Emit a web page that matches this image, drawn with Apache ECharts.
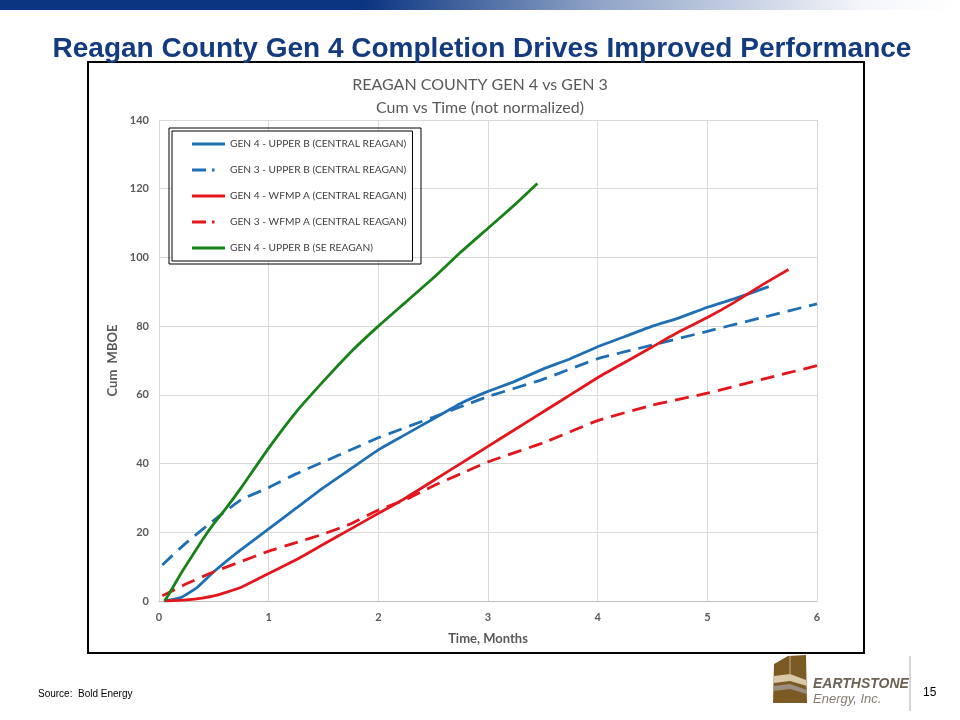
<!DOCTYPE html>
<html>
<head>
<meta charset="utf-8">
<script src="https://cdn.jsdelivr.net/npm/echarts@6/dist/echarts.min.js"></script>
<style>html,body{margin:0;padding:0;background:#fff;}#c{width:960px;height:720px;}</style>
</head>
<body>
<div id="c"></div>
<script>
// ---- data (time in months, cum in MBOE) ----
const seriesNames = [
  'GEN 4 - UPPER B (CENTRAL REAGAN)',
  'GEN 3 - UPPER B (CENTRAL REAGAN)',
  'GEN 4 - WFMP A (CENTRAL REAGAN)',
  'GEN 3 - WFMP A (CENTRAL REAGAN)',
  'GEN 4 - UPPER B (SE REAGAN)'
];
const gen4UpperBCentral = [[0.05,0],[0.2,1],[0.35,4],[0.5,8.5],[0.75,15],[1,21],[1.25,27],[1.5,33],[1.75,38.5],[2,44],[2.25,48.5],[2.5,53],[2.75,57.5],[3,61],[3.25,64],[3.5,67.5],[3.75,70.5],[4,74],[4.25,77],[4.5,80],[4.75,82.5],[5,85.5],[5.25,88],[5.56,91.5]];
const gen3UpperBCentral = [[0.03,10.5],[0.25,17],[0.5,23.5],[0.75,29.5],[1,33],[1.25,37],[1.5,40.5],[1.75,44],[2,47.5],[2.5,53.5],[3,59.5],[3.5,64.5],[4,70.5],[4.5,74.5],[5,78.5],[5.5,82.5],[6,86.5]];
const gen4WfmpACentral = [[0.05,0],[0.25,0.3],[0.5,1.5],[0.75,4],[1,8],[1.25,12],[1.5,16.5],[1.75,21],[2,25.5],[2.25,30],[2.5,35],[2.75,40],[3,45],[3.25,50],[3.5,55],[3.75,60],[4,65],[4.25,69.5],[4.5,74],[4.75,78.5],[5,82.5],[5.25,87],[5.5,92],[5.74,96.5]];
const gen3WfmpACentral = [[0.03,1.5],[0.25,5],[0.5,8.5],[0.75,11.5],[1,14.5],[1.25,17],[1.5,19.5],[1.75,22.5],[2,26.5],[2.25,29.5],[2.5,33.5],[2.75,37],[3,40.5],[3.5,46],[4,52.5],[4.5,57],[5,60.5],[5.5,64.5],[6,68.5]];
const gen4UpperBSE = [[0.05,0],[0.1,2.5],[0.2,8],[0.3,13],[0.4,18],[0.5,22.5],[0.6,26.5],[0.75,33],[1,44.5],[1.25,55],[1.5,64],[1.75,72.5],[2,80],[2.25,87],[2.5,94],[2.75,101.5],[3,108.5],[3.25,115.5],[3.45,121.5]];

const pageTitle = 'Reagan County Gen 4 Completion Drives Improved Performance';
const chartTitle = 'REAGAN COUNTY GEN 4 vs GEN 3\nCum vs Time (not normalized)';
const xAxisName = 'Time, Months';
const yAxisName = 'Cum  MBOE';
const sourceText = 'Source:  Bold Energy';
const pageNumber = '15';

const BLUE = '#1f6fb4', RED = '#e4161c', GREEN = '#178217';
const FONT = 'Lato, "Open Sans", sans-serif';
const ICON_SOLID = 'path://M0,0M33,14M0,5.5h33v3h-33z';
const ICON_DASH = 'path://M0,0M33,14M0,5.5h14v3h-14zM20,5.5h2.5v3h-2.5z';

const chart = echarts.init(document.getElementById('c'), null, {renderer: 'canvas'});

function mk(name, data, color, dashed) {
  return {
    name: name, type: 'line', data: data, showSymbol: false, symbol: 'none',
    smooth: 0.15,
    lineStyle: {color: color, width: 2.8, type: dashed ? [14, 8] : 'solid'},
    itemStyle: {color: color},
    emphasis: {disabled: true}, animation: false
  };
}

chart.setOption({
  animation: false,
  backgroundColor: '#fff',
  title: [
    {text: pageTitle, left: 477, top: 30, textAlign: 'center',
     textStyle: {fontFamily: '"Liberation Sans Narrow", Arial, sans-serif', fontWeight: 'bold', fontSize: 28, color: '#143a80'}},
    {text: chartTitle, left: 475, top: 68, textAlign: 'center',
     textStyle: {fontFamily: FONT, fontWeight: 'normal', fontSize: 16, color: '#595959', lineHeight: 23}},
    {text: sourceText, left: 33, top: 684,
     textStyle: {fontFamily: 'Arial, "Liberation Sans", sans-serif', fontWeight: 'normal', fontSize: 10, color: '#000'}},
    {text: pageNumber, left: 918, top: 682,
     textStyle: {fontFamily: 'Arial, "Liberation Sans", sans-serif', fontWeight: 'normal', fontSize: 12, color: '#000'}}
  ],
  grid: {left: 159, right: 143, top: 120, bottom: 119, containLabel: false},
  xAxis: {
    type: 'value', min: 0, max: 6, interval: 1,
    name: xAxisName, nameLocation: 'middle', nameGap: 31,
    nameTextStyle: {fontFamily: FONT, fontWeight: 'bold', fontSize: 13, color: '#595959'},
    axisLine: {show: true, lineStyle: {color: '#bfbfbf', width: 1}},
    axisTick: {show: false},
    axisLabel: {fontFamily: FONT, fontWeight: 'bold', fontSize: 11, color: '#595959', margin: 11},
    splitLine: {show: true, lineStyle: {color: '#d9d9d9', width: 1}}
  },
  yAxis: {
    type: 'value', min: 0, max: 140, interval: 20,
    name: yAxisName, nameLocation: 'middle', nameGap: 37, nameRotate: 90,
    nameTextStyle: {fontFamily: FONT, fontWeight: 'bold', fontSize: 13, color: '#595959'},
    axisLine: {show: true, lineStyle: {color: '#d9d9d9', width: 1}},
    axisTick: {show: false},
    axisLabel: {fontFamily: FONT, fontWeight: 'bold', fontSize: 11, color: '#595959', margin: 10},
    splitLine: {show: true, lineStyle: {color: '#d9d9d9', width: 1}}
  },
  legend: {
    orient: 'vertical', left: 172, top: 131,
    padding: [6, 6, 6, 20], itemWidth: 33, itemHeight: 14, itemGap: 12,
    borderColor: '#000', borderWidth: 1, backgroundColor: '#fff',
    textStyle: {fontFamily: FONT, fontSize: 10.2, color: '#404040'},
    data: [
      {name: seriesNames[0], icon: ICON_SOLID, itemStyle: {color: BLUE}},
      {name: seriesNames[1], icon: ICON_DASH, itemStyle: {color: BLUE}},
      {name: seriesNames[2], icon: ICON_SOLID, itemStyle: {color: RED}},
      {name: seriesNames[3], icon: ICON_DASH, itemStyle: {color: RED}},
      {name: seriesNames[4], icon: ICON_SOLID, itemStyle: {color: GREEN}}
    ]
  },
  series: [
    mk(seriesNames[0], gen4UpperBCentral, BLUE, false),
    mk(seriesNames[1], gen3UpperBCentral, BLUE, true),
    mk(seriesNames[2], gen4WfmpACentral, RED, false),
    mk(seriesNames[3], gen3WfmpACentral, RED, true),
    mk(seriesNames[4], gen4UpperBSE, GREEN, false)
  ],
  graphic: [
    {type: 'rect', shape: {x: 0, y: 0, width: 960, height: 10}, silent: true,
     style: {fill: new echarts.graphic.LinearGradient(0, 0, 1, 0, [
       {offset: 0, color: '#0b3580'}, {offset: 0.38, color: '#0b3580'},
       {offset: 0.62, color: '#8ea3c6'}, {offset: 0.9, color: '#f4f6fa'}, {offset: 1, color: '#ffffff'}])}},
    {type: 'rect', shape: {x: 88, y: 62, width: 776, height: 591}, silent: true, z: -1,
     style: {fill: 'none', stroke: '#000', lineWidth: 2}},
    {type: 'rect', shape: {x: 169, y: 128, width: 252, height: 136}, silent: true, z: 1,
     style: {fill: 'none', stroke: '#000', lineWidth: 1}},
    {type: 'group', silent: true, children: [
      {type: 'polygon', shape: {points: [[773,703],[774,664],[788,656],[806,655],[807,703]]}, style: {fill: '#7b5a24'}},
      {type: 'polygon', shape: {points: [[774,676],[790,674],[806,680],[807,686],[790,681],[774,683]]}, style: {fill: '#d8c9a8'}},
      {type: 'polygon', shape: {points: [[774,686],[790,684],[807,690],[807,694],[790,689],[774,691]]}, style: {fill: '#9a8f80'}},
      {type: 'line', shape: {x1: 790, y1: 656, x2: 790, y2: 676}, style: {stroke: '#c8b48a', lineWidth: 1}},
      {type: 'text', x: 813, y: 684, style: {text: 'EARTHSTONE', font: 'italic bold 14px "Liberation Sans Narrow", Arial, sans-serif', fill: '#6e6254', textVerticalAlign: 'middle'}},
      {type: 'text', x: 813, y: 699, style: {text: 'Energy, Inc.', font: 'italic 13px "Liberation Sans Narrow", Arial, sans-serif', fill: '#857a6d', textVerticalAlign: 'middle'}},
      {type: 'line', shape: {x1: 910, y1: 656, x2: 910, y2: 711}, style: {stroke: '#c8c8c8', lineWidth: 1.5}}
    ]}
  ]
});
</script>
</body>
</html>
